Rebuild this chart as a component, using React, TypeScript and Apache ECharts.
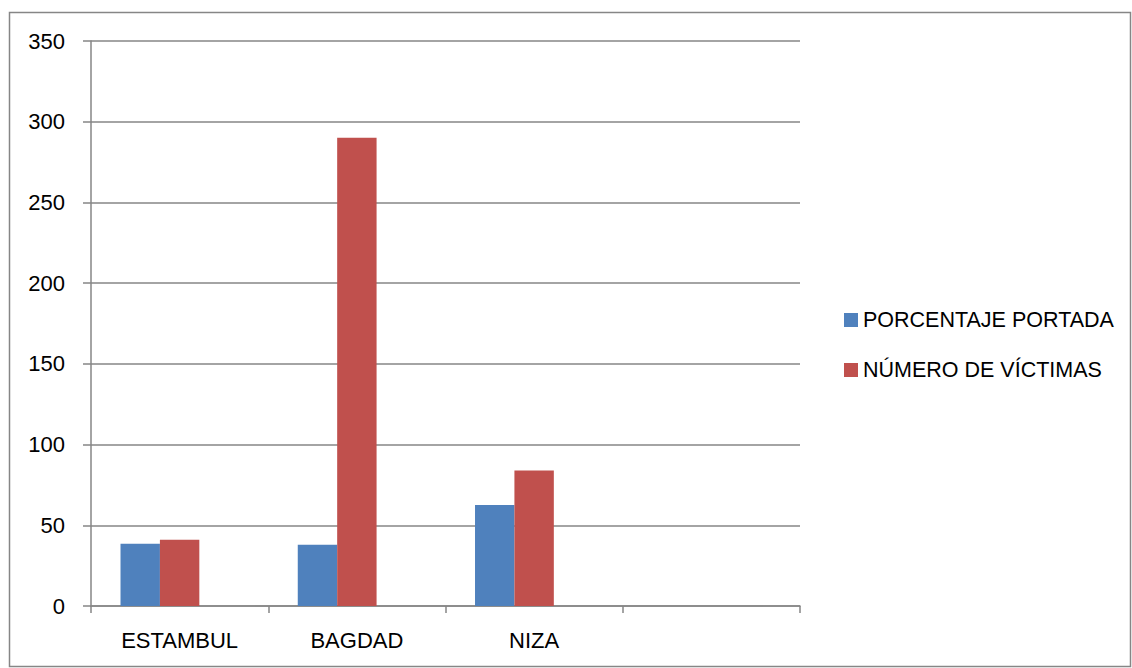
import React, { useEffect, useRef } from "react";
import * as echarts from "echarts";

const categories = ["ESTAMBUL", "BAGDAD", "NIZA", ""];
const porcentajePortada = [38.5, 38, 62.5, null];
const numeroVictimas = [41, 290, 84, null];
const emptySeries = [null, null, null, null];
const seriesNames = ["PORCENTAJE PORTADA", "NÚMERO DE VÍCTIMAS"];
const FONT = "'Liberation Sans', Arial, sans-serif";

export default function App() {
  const ref = useRef<HTMLDivElement>(null);
  useEffect(() => {
    if (!ref.current) return;
    const chart = echarts.init(ref.current, null, { renderer: "svg" });
    chart.setOption({
      animation: false,
      backgroundColor: "#ffffff",
      textStyle: { fontFamily: FONT },
      graphic: [
        {
          type: "rect",
          shape: { x: 9.5, y: 12.5, width: 1121, height: 654 },
          style: { fill: "none", stroke: "#868686", lineWidth: 1.5 },
          silent: true,
        },
      ],
      grid: { left: 91, top: 41, right: 332, bottom: 62, containLabel: false },
      legend: {
        orient: "vertical",
        left: 839,
        top: 304,
        itemWidth: 14,
        itemHeight: 14,
        itemGap: 28,
        icon: "rect",
        data: seriesNames,
        textStyle: { fontFamily: FONT, fontSize: 21.5, color: "#000" },
      },
      xAxis: {
        type: "category",
        data: categories,
        axisLine: { lineStyle: { color: "#868686", width: 1.5 } },
        axisTick: { show: true, length: 7, lineStyle: { color: "#868686", width: 1.5 } },
        axisLabel: { fontFamily: FONT, fontSize: 22, color: "#000", margin: 23 },
        splitLine: { show: false },
      },
      yAxis: {
        type: "value",
        min: 0,
        max: 350,
        interval: 50,
        axisLine: { show: true, lineStyle: { color: "#868686", width: 1.5 } },
        axisTick: { show: true, length: 8, lineStyle: { color: "#868686", width: 1.5 } },
        axisLabel: { fontFamily: FONT, fontSize: 22, color: "#000", margin: 26 },
        splitLine: { show: true, lineStyle: { color: "#868686", width: 1.5 } },
      },
      series: [
        {
          name: seriesNames[0],
          type: "bar",
          data: porcentajePortada,
          barGap: "0%",
          barCategoryGap: "33.3%",
          itemStyle: { color: "#4F81BD" },
        },
        {
          name: seriesNames[1],
          type: "bar",
          data: numeroVictimas,
          barGap: "0%",
          barCategoryGap: "33.3%",
          itemStyle: { color: "#C0504D" },
        },
        {
          name: "",
          type: "bar",
          data: emptySeries,
          barGap: "0%",
          barCategoryGap: "33.3%",
          itemStyle: { color: "#9BBB59" },
        },
      ],
    });
    return () => chart.dispose();
  }, []);
  return (
    <div
      ref={ref}
      style={{ position: "fixed", left: 0, top: 0, width: 1132, height: 668 }}
    />
  );
}
